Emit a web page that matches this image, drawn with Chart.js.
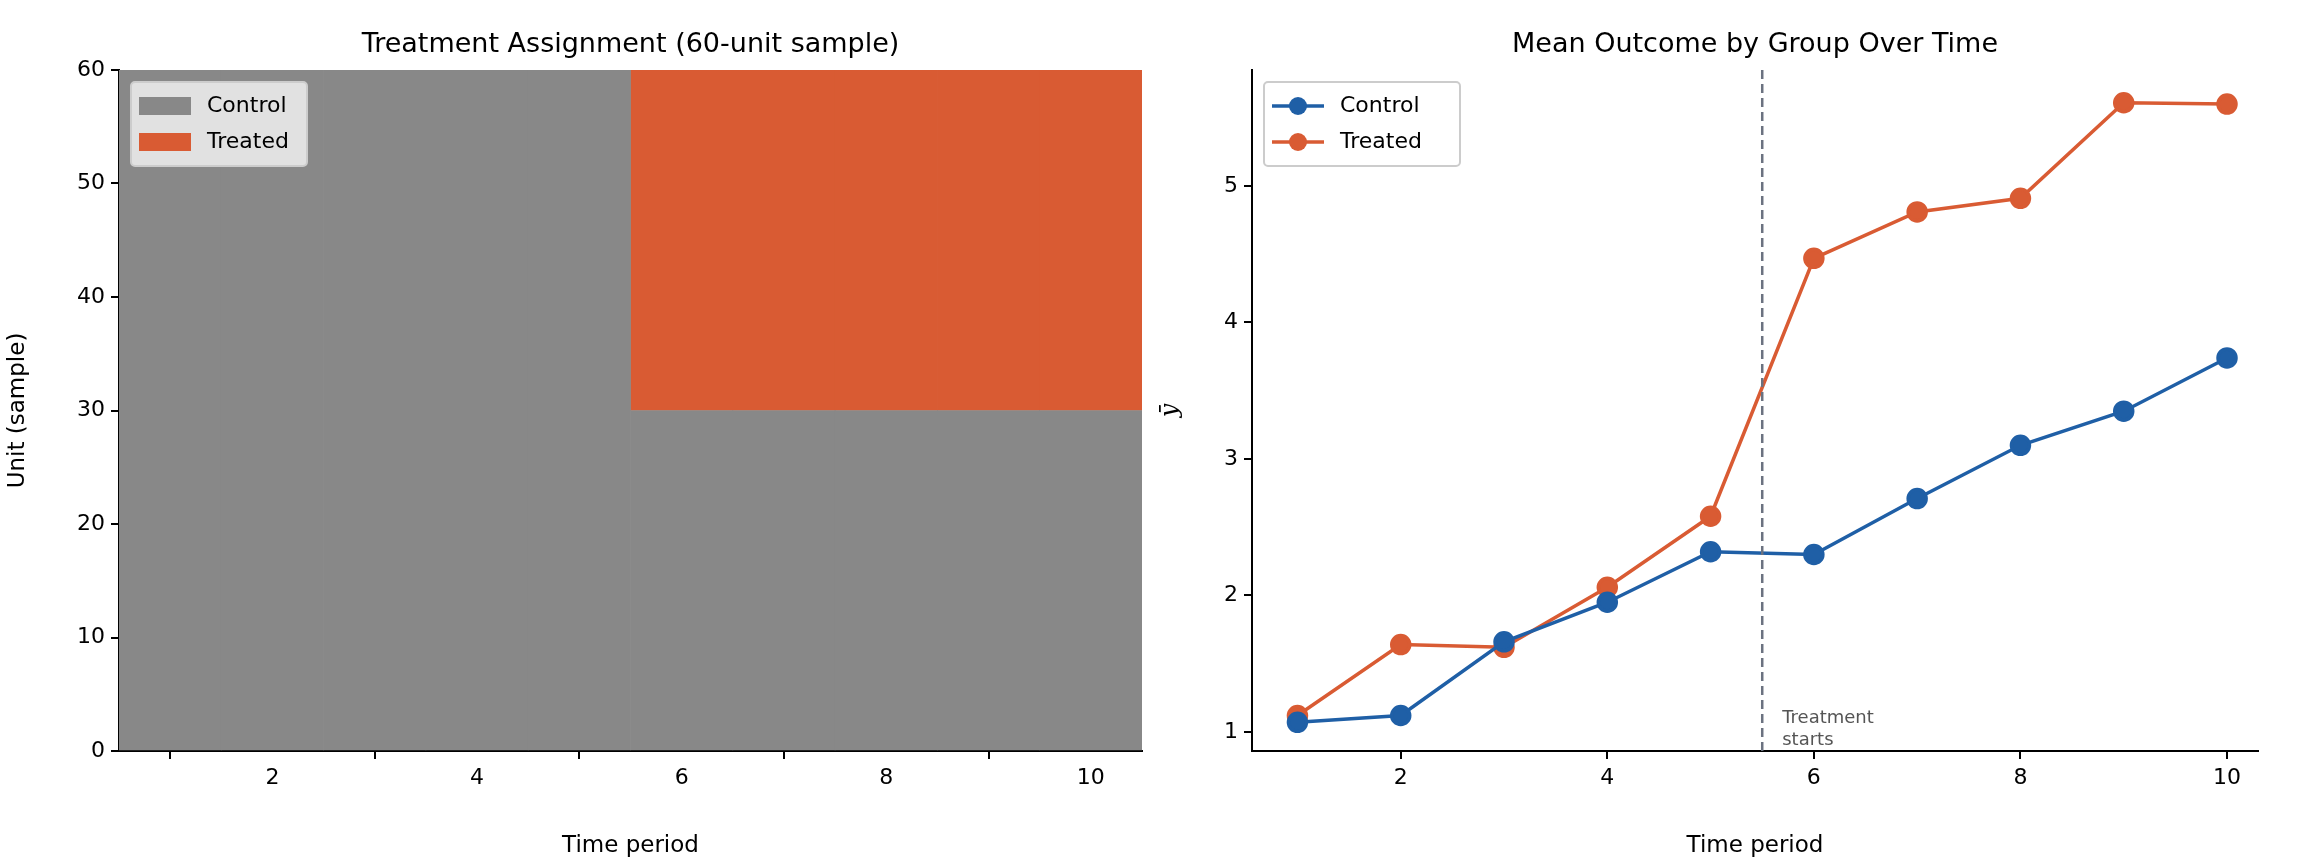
<!DOCTYPE html>
<html>
<head>
<meta charset="utf-8">
<script src="https://cdn.jsdelivr.net/npm/chart.js@4"></script>
<style>
  body { margin: 0; background: #fff; }
  .panel { position: absolute; top: 0; width: 1152px; height: 864px; }
</style>
</head>
<body>
<div class="panel" style="left:0"><canvas id="graficoAsignacion"></canvas></div>
<div class="panel" style="left:1152px"><canvas id="graficoMedias"></canvas></div>
<script>
// datos
var periodos = [1, 2, 3, 4, 5, 6, 7, 8, 9, 10];
var mediaControl = [1.07, 1.12, 1.66, 1.95, 2.32, 2.30, 2.71, 3.10, 3.35, 3.74];
var mediaTratado = [1.12, 1.64, 1.62, 2.06, 2.58, 4.47, 4.81, 4.91, 5.61, 5.60];
var inicioTratamiento = 6;
var totalUnidades = 60;
var unidadesTratadas = [30, 60];
var ticksX = [2, 4, 6, 8, 10];

var gris = '#888888';
var naranja = '#d95b33';
var azul = '#1f5fa6';
var fuente = 'DejaVu Sans';

Chart.defaults.font.family = fuente;
Chart.defaults.color = '#000';
Chart.defaults.animation = false;
Chart.defaults.responsive = true;
Chart.defaults.maintainAspectRatio = false;

function ejeComun(extra) {
    return Object.assign({
        type: 'linear',
        border: { color: '#000', width: 2 },
        grid: { drawOnChartArea: false, color: '#000', tickLength: 8, lineWidth: 2 },
        ticks: { font: { size: 22 }, color: '#000', padding: 6 }
    }, extra);
}

var tituloPlugin = {
    id: 'titulo',
    afterDraw: function (chart, args, opts) {
        var c = chart.ctx, a = chart.chartArea;
        c.save();
        c.font = '27px ' + fuente;
        c.fillStyle = '#000';
        c.textAlign = 'center';
        c.textBaseline = 'bottom';
        c.fillText(opts.text, (a.left + a.right) / 2, a.top - 12);
        c.restore();
    }
};

var leyendaPlugin = {
    id: 'leyenda',
    afterDraw: function (chart, args, opts) {
        var c = chart.ctx, a = chart.chartArea;
        var x = a.left + 12, y = a.top + 12;
        c.save();
        c.fillStyle = opts.bg;
        c.strokeStyle = '#cccccc';
        c.lineWidth = 2;
        c.beginPath();
        c.roundRect(x, y, opts.w, opts.items.length * 36 + 12, 4);
        c.fill(); c.stroke();
        c.font = '22px ' + fuente;
        c.textBaseline = 'middle';
        opts.items.forEach(function (it, i) {
            var cy = y + 24 + i * 36;
            if (opts.tipo === 'caja') {
                c.fillStyle = it.color;
                c.fillRect(x + 8, cy - 9, 52, 18);
            } else {
                c.strokeStyle = it.color;
                c.lineWidth = 3.5;
                c.beginPath(); c.moveTo(x + 8, cy); c.lineTo(x + 60, cy); c.stroke();
                c.fillStyle = it.color;
                c.beginPath(); c.arc(x + 34, cy, 9, 0, Math.PI * 2); c.fill();
            }
            c.fillStyle = '#000';
            c.fillText(it.label, x + 76, cy);
        });
        c.restore();
    }
};

var lineaTratamiento = {
    id: 'lineaTratamiento',
    afterDatasetsDraw: function (chart) {
        var c = chart.ctx, a = chart.chartArea;
        var px = chart.scales.x.getPixelForValue(inicioTratamiento - 0.5);
        c.save();
        c.strokeStyle = '#6b7280';
        c.lineWidth = 2.5;
        c.setLineDash([9, 5]);
        c.beginPath(); c.moveTo(px, a.top); c.lineTo(px, a.bottom); c.stroke();
        c.setLineDash([]);
        c.fillStyle = '#555';
        c.font = '18px ' + fuente;
        c.textBaseline = 'bottom';
        c.fillText('Treatment', px + 20, a.bottom - 24);
        c.fillText('starts', px + 20, a.bottom - 2);
        c.restore();
    }
};

// heatmap de asignación como barras flotantes
var barrasControl = periodos.map(function (t) {
    return { x: t, y: t < inicioTratamiento ? [0, totalUnidades] : [0, unidadesTratadas[0]] };
});
var barrasTratado = periodos.filter(function (t) { return t >= inicioTratamiento; }).map(function (t) {
    return { x: t, y: unidadesTratadas };
});

new Chart(document.getElementById('graficoAsignacion'), {
    type: 'bar',
    data: {
        datasets: [
            { data: barrasControl, backgroundColor: gris, barPercentage: 1.0, categoryPercentage: 1.0, grouped: false, borderWidth: 0 },
            { data: barrasTratado, backgroundColor: naranja, barPercentage: 1.0, categoryPercentage: 1.0, grouped: false, borderWidth: 0 }
        ]
    },
    options: {
        layout: { padding: { top: 70, right: 10, bottom: 0, left: 0 } },
        plugins: {
            legend: { display: false }, tooltip: { enabled: false },
            titulo: { text: 'Treatment Assignment (60-unit sample)' },
            leyenda: { tipo: 'caja', bg: 'rgba(235,235,235,0.9)', w: 176, items: [{ label: 'Control', color: gris }, { label: 'Treated', color: naranja }] }
        },
        scales: {
            x: ejeComun({
                min: 0.5, max: 10.5, offset: false,
                afterBuildTicks: function (s) { s.ticks = ticksX.map(function (v) { return { value: v }; }); },
                afterFit: function (s) { s.height = 113; },
                title: { display: true, text: 'Time period', font: { size: 23 }, padding: { top: 4 } }
            }),
            y: ejeComun({
                min: 0, max: 60,
                ticks: { stepSize: 10, font: { size: 22 }, color: '#000', padding: 6 },
                afterFit: function (s) { s.width = 119; },
                title: { display: true, text: 'Unit (sample)', font: { size: 23 }, padding: { bottom: 6 } }
            })
        }
    },
    plugins: [tituloPlugin, leyendaPlugin]
});

new Chart(document.getElementById('graficoMedias'), {
    type: 'line',
    data: {
        labels: periodos,
        datasets: [
            { label: 'Control', data: periodos.map(function (t, i) { return { x: t, y: mediaControl[i] }; }), borderColor: azul, backgroundColor: azul, borderWidth: 3.5, pointRadius: 9, tension: 0 },
            { label: 'Treated', data: periodos.map(function (t, i) { return { x: t, y: mediaTratado[i] }; }), borderColor: naranja, backgroundColor: naranja, borderWidth: 3.5, pointRadius: 9, tension: 0 }
        ]
    },
    options: {
        layout: { padding: { top: 70, right: 46, bottom: 0, left: 0 } },
        plugins: {
            legend: { display: false }, tooltip: { enabled: false },
            titulo: { text: 'Mean Outcome by Group Over Time' },
            leyenda: { tipo: 'linea', bg: 'rgba(255,255,255,0.9)', w: 196, items: [{ label: 'Control', color: azul }, { label: 'Treated', color: naranja }] }
        },
        scales: {
            x: ejeComun({
                min: 0.56, max: 10.3,
                afterBuildTicks: function (s) { s.ticks = ticksX.map(function (v) { return { value: v }; }); },
                afterFit: function (s) { s.height = 113; },
                title: { display: true, text: 'Time period', font: { size: 23 }, padding: { top: 4 } }
            }),
            y: ejeComun({
                min: 0.86, max: 5.85,
                afterBuildTicks: function (s) { s.ticks = [1, 2, 3, 4, 5].map(function (v) { return { value: v }; }); },
                afterFit: function (s) { s.width = 100; },
                title: { display: true, text: 'ȳ', font: { size: 24, style: 'italic', family: 'DejaVu Serif' }, padding: { bottom: 6 } }
            })
        }
    },
    plugins: [tituloPlugin, leyendaPlugin, lineaTratamiento]
});
</script>
</body>
</html>
